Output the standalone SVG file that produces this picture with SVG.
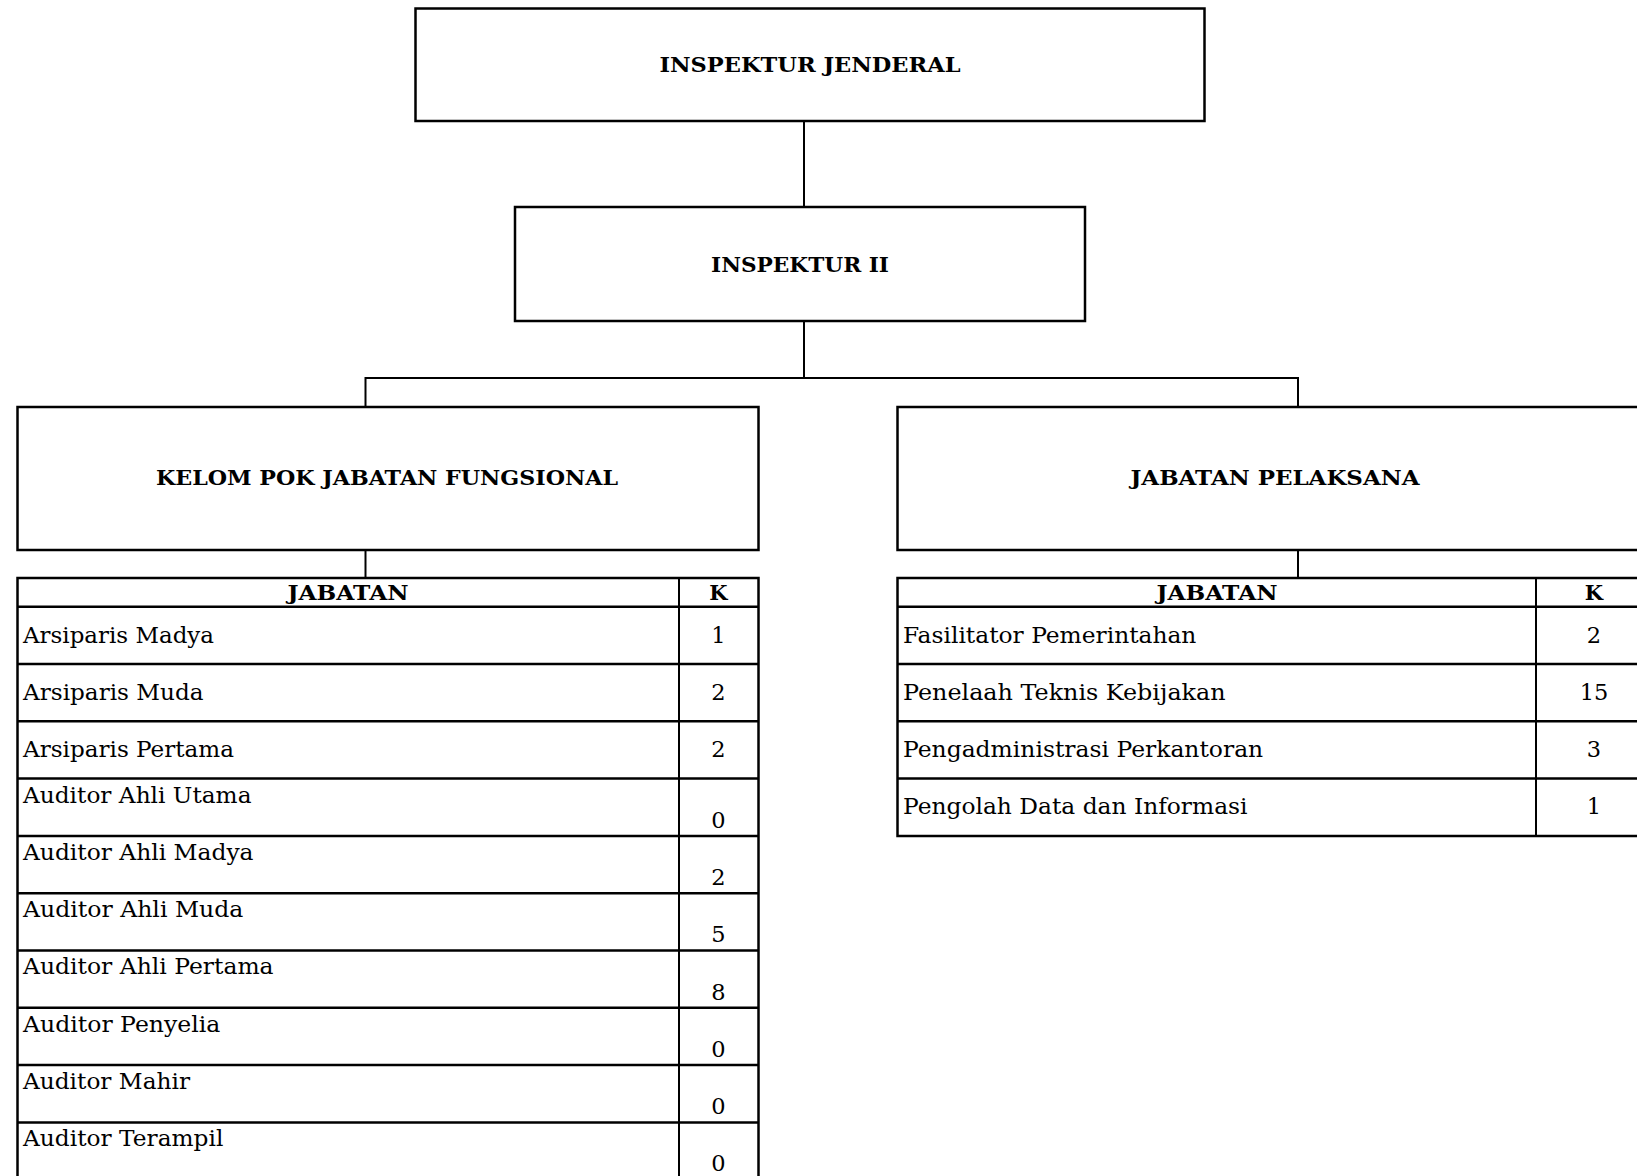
<svg xmlns="http://www.w3.org/2000/svg" width="1637" height="1176" viewBox="0 0 1637 1176">
<style>
.box{fill:#fff;stroke:#000;stroke-width:2.5}
.ln{stroke:#000;stroke-width:2;fill:none}
.tl{stroke:#000;stroke-width:2.5;fill:none}
.t{font-family:"DejaVu Serif","Liberation Serif",serif;font-weight:bold;font-size:21px;fill:#000}
.c{text-anchor:middle}
.b{font-family:"DejaVu Serif","Liberation Serif",serif;font-size:22.5px;fill:#000}
</style>
<rect width="1637" height="1176" fill="#fff"/>
<g id="connectors">
<line class="ln" x1="804" y1="121" x2="804" y2="207"/>
<line class="ln" x1="804" y1="321" x2="804" y2="378"/>
<polyline class="ln" points="365.5,407 365.5,378 1298,378 1298,407"/>
<line class="ln" x1="365.5" y1="550" x2="365.5" y2="578"/>
<line class="ln" x1="1298" y1="550" x2="1298" y2="578"/>
</g>
<g id="inspektur-jenderal">
<rect class="box" x="415.5" y="8.5" width="789" height="112.5"/>
<text class="t c" x="810" y="72" textLength="301" lengthAdjust="spacingAndGlyphs">INSPEKTUR JENDERAL</text>
</g>
<g id="inspektur-ii">
<rect class="box" x="515" y="207" width="570" height="114"/>
<text class="t c" x="800" y="272" textLength="178" lengthAdjust="spacingAndGlyphs">INSPEKTUR II</text>
</g>
<g id="kelompok-jabatan-fungsional">
<rect class="box" x="17.5" y="407" width="741" height="143"/>
<text class="t c" x="387" y="485" textLength="462" lengthAdjust="spacingAndGlyphs">KELOM POK JABATAN FUNGSIONAL</text>
</g>
<g id="jabatan-pelaksana">
<rect class="box" x="897.5" y="407" width="754" height="143"/>
<text class="t c" x="1275" y="485" textLength="289" lengthAdjust="spacingAndGlyphs">JABATAN PELAKSANA</text>
</g>
<g id="tabel-fungsional">
<rect class="tl" x="17.5" y="578" width="741" height="620"/>
<line class="ln" x1="679" y1="578" x2="679" y2="1198"/>
<g class="tl">
<line x1="17.5" y1="606.7" x2="758.5" y2="606.7"/>
<line x1="17.5" y1="664" x2="758.5" y2="664"/>
<line x1="17.5" y1="721.3" x2="758.5" y2="721.3"/>
<line x1="17.5" y1="778.6" x2="758.5" y2="778.6"/>
<line x1="17.5" y1="835.9" x2="758.5" y2="835.9"/>
<line x1="17.5" y1="893.2" x2="758.5" y2="893.2"/>
<line x1="17.5" y1="950.5" x2="758.5" y2="950.5"/>
<line x1="17.5" y1="1007.8" x2="758.5" y2="1007.8"/>
<line x1="17.5" y1="1065.1" x2="758.5" y2="1065.1"/>
<line x1="17.5" y1="1122.4" x2="758.5" y2="1122.4"/>
</g>
<text class="t c" x="348" y="600" textLength="121" lengthAdjust="spacingAndGlyphs">JABATAN</text>
<text class="t c" x="718.5" y="600">K</text>
<text class="b" x="23" y="643" textLength="191" lengthAdjust="spacingAndGlyphs">Arsiparis Madya</text>
<text class="b c" x="718.5" y="643">1</text>
<text class="b" x="23" y="700" textLength="180.5" lengthAdjust="spacingAndGlyphs">Arsiparis Muda</text>
<text class="b c" x="718.5" y="700">2</text>
<text class="b" x="23" y="757" textLength="211" lengthAdjust="spacingAndGlyphs">Arsiparis Pertama</text>
<text class="b c" x="718.5" y="757">2</text>
<text class="b" x="23" y="802.5" textLength="228.5" lengthAdjust="spacingAndGlyphs">Auditor Ahli Utama</text>
<text class="b c" x="718.5" y="827.6">0</text>
<text class="b" x="23" y="859.8" textLength="230.5" lengthAdjust="spacingAndGlyphs">Auditor Ahli Madya</text>
<text class="b c" x="718.5" y="884.9">2</text>
<text class="b" x="23" y="917.1" textLength="220.3" lengthAdjust="spacingAndGlyphs">Auditor Ahli Muda</text>
<text class="b c" x="718.5" y="942.2">5</text>
<text class="b" x="23" y="974.4" textLength="250.6" lengthAdjust="spacingAndGlyphs">Auditor Ahli Pertama</text>
<text class="b c" x="718.5" y="999.5">8</text>
<text class="b" x="23" y="1031.7" textLength="197.3" lengthAdjust="spacingAndGlyphs">Auditor Penyelia</text>
<text class="b c" x="718.5" y="1056.8">0</text>
<text class="b" x="23" y="1089" textLength="167" lengthAdjust="spacingAndGlyphs">Auditor Mahir</text>
<text class="b c" x="718.5" y="1114.1">0</text>
<text class="b" x="23" y="1146.3" textLength="200.4" lengthAdjust="spacingAndGlyphs">Auditor Terampil</text>
<text class="b c" x="718.5" y="1171.4">0</text>
</g>
<g id="tabel-pelaksana">
<rect class="tl" x="897.5" y="578" width="754" height="258"/>
<line class="ln" x1="1536" y1="578" x2="1536" y2="836"/>
<g class="tl">
<line x1="897.5" y1="606.7" x2="1651.5" y2="606.7"/>
<line x1="897.5" y1="664" x2="1651.5" y2="664"/>
<line x1="897.5" y1="721.3" x2="1651.5" y2="721.3"/>
<line x1="897.5" y1="778.6" x2="1651.5" y2="778.6"/>
</g>
<text class="t c" x="1217" y="600" textLength="121" lengthAdjust="spacingAndGlyphs">JABATAN</text>
<text class="t c" x="1594" y="600">K</text>
<text class="b" x="903" y="643" textLength="293.4" lengthAdjust="spacingAndGlyphs">Fasilitator Pemerintahan</text>
<text class="b c" x="1594" y="643">2</text>
<text class="b" x="903" y="700" textLength="322.6" lengthAdjust="spacingAndGlyphs">Penelaah Teknis Kebijakan</text>
<text class="b c" x="1594" y="700">15</text>
<text class="b" x="903" y="757" textLength="360.2" lengthAdjust="spacingAndGlyphs">Pengadministrasi Perkantoran</text>
<text class="b c" x="1594" y="757">3</text>
<text class="b" x="903" y="814" textLength="344.5" lengthAdjust="spacingAndGlyphs">Pengolah Data dan Informasi</text>
<text class="b c" x="1594" y="814">1</text>
</g>
</svg>
